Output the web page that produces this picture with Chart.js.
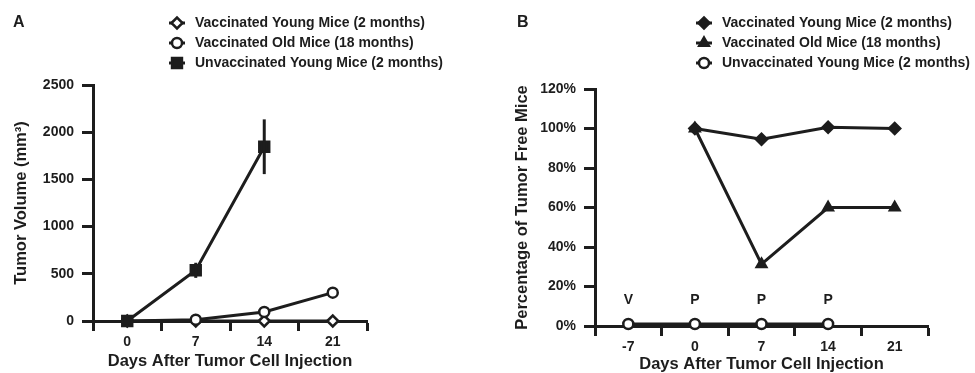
<!DOCTYPE html>
<html>
<head>
<meta charset="utf-8">
<script src="https://cdn.jsdelivr.net/npm/chart.js@4.4.1/dist/chart.umd.min.js"></script>
<style>
  body { margin: 0; background: #fff; }
  #wrap { position: relative; width: 975px; height: 373px; }
  canvas { position: absolute; top: 0; }
  #chartA { left: 0; }
  #chartB { left: 480px; }
</style>
</head>
<body>
<div id="wrap">
  <canvas id="chartA" width="480" height="373"></canvas>
  <canvas id="chartB" width="495" height="373"></canvas>
</div>
<script>
// Panel A - tumor volume (mm3)
const daysA = [0, 7, 14, 21];
const youngVacA = [0, 0, 0, 0];
const oldVacA = [0, 14, 96, 300];
const youngUnvacA = [0, 537, 1846, null];
const youngUnvacErrA = [0, 80, 290, null];
const volumeTicks = [0, 500, 1000, 1500, 2000, 2500];
const dayMarksA = [-3.5, 3.5, 10.5, 17.5, 24.5];

// Panel B - percentage of tumor free mice
const daysB = [-7, 0, 7, 14, 21];
const youngVacB = [null, 100, 94.6, 100.6, 100];
const oldVacB = [null, 100, 31.3, 60, 60];
const unvacB = [1, 1, 1, 1, null];
const percentTicks = [0, 20, 40, 60, 80, 100, 120];
const dayMarksB = [-10.5, -3.5, 3.5, 10.5, 17.5, 24.5];
const eventDays = [-7, 0, 7, 14];
const eventLabels = ['V', 'P', 'P', 'P'];
const eventLevel = 13;

const INK = '#1d1d1d';
const FONT = "'Liberation Sans', Arial, Helvetica, sans-serif";

function toPoints(xs, ys) {
    return xs.map((x, i) => ({ x: x, y: ys[i] })).filter(p => p.y !== null);
}

function lineSet(label, xs, ys, style, filled, radius, order) {
    return {
        label: label,
        data: toPoints(xs, ys),
        borderColor: INK,
        borderWidth: 3,
        pointStyle: style,
        pointRadius: radius,
        pointBorderWidth: 2.5,
        pointBorderColor: INK,
        pointBackgroundColor: filled ? INK : '#fff',
        clip: false,
        order: order
    };
}

function xAxis(min, max, marks, labels, titlePad) {
    return {
        type: 'linear',
        min: min,
        max: max,
        afterBuildTicks: s => {
            s.ticks = marks.concat(labels).sort((a, b) => a - b).map(v => ({ value: v }));
        },
        afterFit: s => { s.height = 373 - s.chart.options.plotBottom; },
        ticks: {
            autoSkip: false,
            maxRotation: 0,
            padding: 3,
            color: INK,
            font: { family: FONT, size: 14, weight: 'bold' },
            callback: v => labels.includes(v) ? String(v) : ''
        },
        grid: {
            drawOnChartArea: false,
            tickLength: 10,
            tickWidth: 3,
            tickColor: c => (c.tick && labels.includes(c.tick.value)) ? 'rgba(0,0,0,0)' : INK
        },
        border: { width: 3, color: INK },
        title: {
            display: true,
            text: 'Days After Tumor Cell Injection',
            color: INK,
            font: { family: FONT, size: 16.5, weight: 'bold', lineHeight: 1 },
            padding: { top: 0, bottom: titlePad }
        }
    };
}

function yAxis(min, max, ticks, fmt, title, width, titlePad) {
    return {
        min: min,
        max: max,
        afterBuildTicks: s => { s.ticks = ticks.map(v => ({ value: v })); },
        afterFit: s => { s.width = width; },
        ticks: {
            padding: 8,
            color: INK,
            font: { family: FONT, size: 14, weight: 'bold' },
            callback: fmt
        },
        grid: { drawOnChartArea: false, tickLength: 11, tickWidth: 3, tickColor: INK },
        border: { width: 3, color: INK },
        title: {
            display: true,
            text: title,
            color: INK,
            font: { family: FONT, size: 16.5, weight: 'bold', lineHeight: 1 },
            padding: { top: titlePad, bottom: 0 }
        }
    };
}

// legend with a short line through each marker, plus panel letter
function legendPlugin(letterX, markX, textX, rowY) {
    return {
        id: 'panelLegend',
        afterDraw(chart) {
            const ctx = chart.ctx;
            ctx.save();
            ctx.fillStyle = INK;
            ctx.font = 'bold 16px ' + FONT;
            ctx.textBaseline = 'middle';
            ctx.fillText(chart.options.panelLetter, letterX, rowY[0]);
            ctx.font = 'bold 14px ' + FONT;
            chart.data.datasets.forEach((ds, i) => {
                const y = rowY[i];
                ctx.strokeStyle = INK;
                ctx.lineWidth = 3;
                ctx.beginPath();
                ctx.moveTo(markX - 8, y);
                ctx.lineTo(markX + 8, y);
                ctx.stroke();
                ctx.fillStyle = ds.pointBackgroundColor;
                ctx.lineWidth = ds.pointBorderWidth;
                Chart.helpers.drawPoint(ctx, {
                    pointStyle: ds.pointStyle,
                    radius: ds.pointRadius,
                    borderWidth: ds.pointBorderWidth,
                    rotation: 0
                }, markX, y);
                ctx.fillStyle = INK;
                ctx.fillText(ds.label, textX, y);
            });
            ctx.restore();
        }
    };
}

const errorBarPlugin = {
    id: 'errorBars',
    afterDatasetsDraw(chart) {
        const ctx = chart.ctx;
        const ys = chart.scales.y;
        const meta = chart.getDatasetMeta(2);
        ctx.save();
        ctx.strokeStyle = INK;
        ctx.lineWidth = 3;
        meta.data.forEach((pt, i) => {
            const err = youngUnvacErrA[i];
            if (!err) return;
            const v = youngUnvacA[i];
            ctx.beginPath();
            ctx.moveTo(pt.x, ys.getPixelForValue(v + err));
            ctx.lineTo(pt.x, ys.getPixelForValue(v - err));
            ctx.stroke();
        });
        ctx.restore();
    }
};

const eventPlugin = {
    id: 'events',
    afterDraw(chart) {
        const ctx = chart.ctx;
        ctx.save();
        ctx.fillStyle = INK;
        ctx.font = 'bold 14px ' + FONT;
        ctx.textAlign = 'center';
        ctx.textBaseline = 'middle';
        eventDays.forEach((d, i) => {
            ctx.fillText(eventLabels[i], chart.scales.x.getPixelForValue(d), chart.scales.y.getPixelForValue(eventLevel));
        });
        ctx.restore();
    }
};

new Chart(document.getElementById('chartA'), {
    type: 'line',
    data: {
        datasets: [
            lineSet('Vaccinated Young Mice (2 months)', daysA, youngVacA, 'rectRot', false, 5.5, 2),
            lineSet('Vaccinated Old Mice (18 months)', daysA, oldVacA, 'circle', false, 5, 1),
            lineSet('Unvaccinated Young Mice (2 months)', daysA, youngUnvacA, 'rect', true, 7, 0)
        ]
    },
    options: {
        responsive: false,
        animation: false,
        panelLetter: 'A',
        plotBottom: 321,
        layout: { padding: { left: 0, top: 85, right: 113, bottom: 0 } },
        plugins: { legend: { display: false }, tooltip: { enabled: false } },
        scales: {
            x: xAxis(-3.5, 24.5, dayMarksA, daysA, 3),
            y: yAxis(0, 2500, volumeTicks, v => String(v), 'Tumor Volume (mm³)', 93, 13)
        }
    },
    plugins: [errorBarPlugin, legendPlugin(13, 177, 195, [23, 43, 63])]
});

new Chart(document.getElementById('chartB'), {
    type: 'line',
    data: {
        datasets: [
            lineSet('Vaccinated Young Mice (2 months)', daysB, youngVacB, 'rectRot', true, 5.5, 0),
            lineSet('Vaccinated Old Mice (18 months)', daysB, oldVacB, 'triangle', true, 5.5, 1),
            lineSet('Unvaccinated Young Mice (2 months)', daysB, unvacB, 'circle', false, 5, 2)
        ]
    },
    options: {
        responsive: false,
        animation: false,
        panelLetter: 'B',
        plotBottom: 326,
        layout: { padding: { left: 0, top: 89, right: 47, bottom: 0 } },
        plugins: { legend: { display: false }, tooltip: { enabled: false } },
        scales: {
            x: xAxis(-10.5, 24.5, dayMarksB, [-7, 0, 7, 14, 21], 0),
            y: yAxis(0, 120, percentTicks, v => v + '%', 'Percentage of Tumor Free Mice', 115, 34)
        }
    },
    plugins: [eventPlugin, legendPlugin(37, 224, 242, [23, 43, 63])]
});
</script>
</body>
</html>
